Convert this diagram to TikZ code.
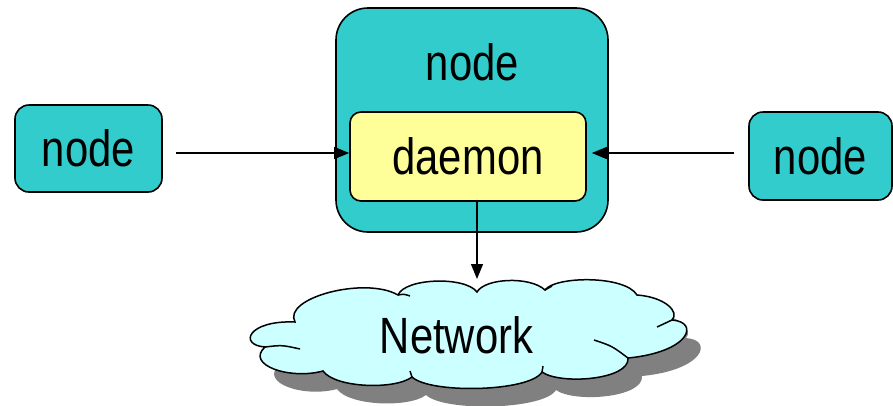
\documentclass[tikz,border=0pt]{standalone}
\usepackage{fontspec}
\setmainfont[FakeStretch=0.82]{Liberation Sans}
\usetikzlibrary{arrows.meta}
\definecolor{boxteal}{HTML}{33CCCC}
\definecolor{daemonyellow}{HTML}{FFFF99}
\definecolor{cloudcyan}{HTML}{CCFFFF}
\definecolor{shadowgray}{HTML}{808080}
\newcommand\netcloudpath{(265,347) .. controls (238,345) and (248,320) .. (295,322)
  .. controls (282,298) and (365,276) .. (398,295)
  .. controls (405,278) and (465,276) .. (477,292)
  .. controls (485,278) and (530,276) .. (545,290)
  .. controls (555,276) and (625,275) .. (637,295)
  .. controls (665,297) and (680,312) .. (672,320)
  .. controls (700,322) and (690,352) .. (628,358)
  .. controls (630,380) and (560,385) .. (542,372)
  .. controls (530,392) and (430,394) .. (412,377)
  .. controls (395,390) and (335,388) .. (323,371)
  .. controls (290,380) and (245,365) .. (265,347) -- cycle}
\tikzset{
  bigfont/.style={font=\fontsize{51}{60}\selectfont},
  tealbox/.style={draw=black, line width=1.6pt, fill=boxteal, inner sep=0pt},
  daemonbox/.style={draw=black, line width=1.6pt, fill=daemonyellow, inner sep=0pt, rounded corners=11pt},
  arr/.style={draw=black, line width=1.3pt, -{Triangle[length=15pt,width=12pt]}},
  cloudline/.style={draw=black, line width=1.5pt},
}
\begin{document}
\begin{tikzpicture}[x=1pt,y=-1pt]
\useasboundingbox (0,0) rectangle (893,405);
% outer host box
\node[tealbox, rounded corners=32pt, minimum width=272pt, minimum height=224pt] (host) at (472,120) {};
\node[bigfont, anchor=base] (hostlabel) at (472.5,80) {node};
\node[daemonbox, bigfont, minimum width=236pt, minimum height=89pt] (daemon) at (468,156.5) {daemon};
% side nodes
\node[tealbox, bigfont, rounded corners=14pt, minimum width=147pt, minimum height=87pt] (ln) at (88.5,148.5) {node};
\node[tealbox, bigfont, rounded corners=14pt, minimum width=143pt, minimum height=88pt] (rn) at (820.5,156) {node};
% cloud
\fill[shadowgray, shift={(14,18)}] \netcloudpath;
\path[cloudline, fill=cloudcyan] \netcloudpath;
\draw[cloudline] (265,347) .. controls (282,345) .. (300,349);
\draw[cloudline] (672,320) .. controls (665,323) .. (657,327);
\draw[cloudline] (628,358) .. controls (612,346) .. (594,340);
\draw[cloudline] (398,295) .. controls (404,294) .. (410,296);
\draw[cloudline] (542,372) -- (543,366);
\draw[cloudline] (412,377) -- (410,371);
\draw[cloudline] (545,290) -- (552,286);
\node[bigfont, anchor=base] (net) at (456.5,353) {Network};
% connectors
\coordinate (lstart) at (176,153);
\coordinate (rstart) at (734,153);
\coordinate (nettop) at (477,279);
\draw[arr] (lstart) -- (lstart -| daemon.west);
\draw[arr] (rstart) -- ([xshift=5pt]rstart -| daemon.east);
\draw[arr] (nettop |- daemon.south) -- (nettop);
\end{tikzpicture}
\end{document}
